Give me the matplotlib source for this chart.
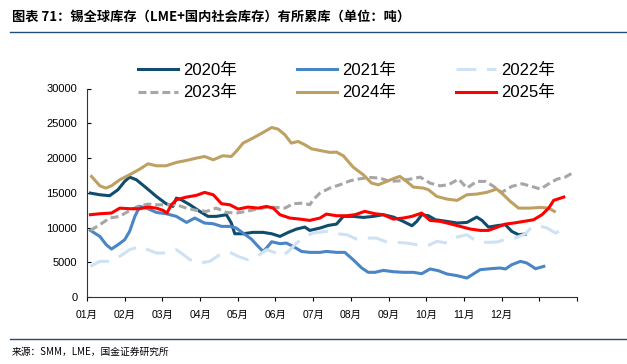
import matplotlib
matplotlib.use("Agg")
import matplotlib.pyplot as plt
from matplotlib.lines import Line2D

plt.rcParams['font.family'] = ['Liberation Sans', 'Noto Sans CJK SC']

# x 轴为月份位置（01月 = 0），数值单位：吨
month_labels = ["01月", "02月", "03月", "04月", "05月", "06月",
                "07月", "08月", "09月", "10月", "11月", "12月", "", ""]

x2020 = [0.09, 0.34, 0.6, 0.82, 1.0, 1.13, 1.31, 1.58, 1.84, 2.1, 2.28, 2.37, 2.5, 2.73, 2.99,
         3.21, 3.43, 3.7, 3.83, 3.92, 4.14, 4.4, 4.67, 4.9, 5.12, 5.34, 5.56, 5.78, 5.91, 6.18,
         6.4, 6.62, 6.8, 7.06, 7.33, 7.6, 7.86, 8.13, 8.39, 8.62, 8.75, 8.88, 9.06, 9.24, 9.55,
         9.82, 10.08, 10.34, 10.48, 10.65, 10.92, 11.1, 11.27, 11.45, 11.63]
inv2020 = [14950, 14710, 14570, 15430, 16630, 17250, 16870, 15670, 14470, 13420, 13030, 14230, 13990, 13270, 12320,
           11600, 11600, 11840, 10640, 9100, 9100, 9300, 9300, 9100, 8720, 9300, 9780, 10060, 9580, 9920,
           10300, 10490, 11600, 11600, 11450, 11600, 11840, 11500, 10880, 10250, 10880, 11840, 11690, 11120, 10880,
           10640, 10730, 11500, 11020, 10060, 10300, 10400, 9440, 8960, 9060]

x2021 = [0.09, 0.34, 0.51, 0.65, 0.82, 1.0, 1.13, 1.27, 1.4, 1.58, 1.84, 2.1, 2.37, 2.64, 2.86,
         3.12, 3.35, 3.57, 3.79, 3.96, 4.14, 4.36, 4.54, 4.67, 4.76, 4.9, 5.12, 5.29, 5.47, 5.69,
         5.91, 6.18, 6.35, 6.62, 6.84, 7.06, 7.29, 7.46, 7.64, 7.86, 8.13, 8.39, 8.66, 8.88, 9.1,
         9.32, 9.55, 9.82, 10.08, 10.26, 10.43, 10.7, 10.96, 11.1, 11.27, 11.5, 11.67, 11.9, 12.12]
inv2021 = [9580, 8720, 7520, 6900, 7520, 8240, 9440, 11600, 13030, 12790, 12170, 11980, 11600, 10730, 11360,
           10640, 10540, 10160, 10160, 9920, 9200, 8340, 7280, 6560, 7040, 7950, 7670, 7760, 7280, 6560,
           6420, 6420, 6560, 6420, 6420, 5370, 4170, 3550, 3550, 3830, 3640, 3550, 3550, 3350, 4030,
           3790, 3310, 3070, 2730, 3350, 3930, 4070, 4170, 4030, 4650, 5130, 4890, 4070, 4410]

x2022 = [0.09, 0.34, 0.6, 0.87, 1.13, 1.4, 1.62, 1.84, 2.1, 2.37, 2.5, 2.73, 2.99, 3.26, 3.52,
         3.79, 4.05, 4.27, 4.54, 4.76, 5.03, 5.16, 5.34, 5.56, 5.78, 6.0, 6.35, 6.62, 6.89, 7.15,
         7.42, 7.68, 7.95, 8.21, 8.48, 8.75, 9.06, 9.28, 9.55, 9.82, 10.08, 10.34, 10.6, 10.87, 11.14,
         11.36, 11.63, 11.76, 11.98, 12.21, 12.43, 12.52]
inv2022 = [4410, 5130, 5130, 5850, 6800, 7280, 6800, 6330, 6330, 6800, 6330, 5370, 4890, 5130, 6090,
           6420, 5750, 5370, 5940, 6800, 6330, 5850, 6560, 7760, 8720, 9200, 9440, 9100, 8960, 8340,
           8480, 8480, 7910, 7860, 7760, 7520, 7430, 8000, 7760, 8630, 8960, 8000, 7860, 7910, 8340,
           8480, 9100, 9820, 10250, 9920, 9200, 9440]

x2023 = [0.09, 0.34, 0.6, 0.87, 1.09, 1.35, 1.62, 1.88, 2.1, 2.37, 2.64, 2.9, 3.17, 3.43, 3.7,
         3.96, 4.23, 4.5, 4.76, 5.03, 5.25, 5.47, 5.73, 5.91, 6.0, 6.18, 6.44, 6.71, 6.98, 7.24,
         7.51, 7.77, 8.04, 8.3, 8.57, 8.84, 9.1, 9.37, 9.59, 9.86, 10.08, 10.34, 10.57, 10.79, 11.0,
         11.27, 11.54, 11.8, 12.03, 12.25, 12.47, 12.69, 12.9]
inv2023 = [9580, 10400, 11360, 11600, 12320, 13030, 13370, 13270, 13270, 13270, 12790, 12460, 12320, 12790, 12170,
           12080, 12320, 12650, 12890, 12890, 12790, 13420, 13510, 13270, 13990, 14950, 15670, 16150, 16720, 17010,
           17200, 17110, 16630, 16720, 16960, 17250, 16390, 16000, 16150, 16960, 15670, 16630, 16630, 15910, 15050,
           15910, 16290, 15910, 15530, 16290, 16960, 17250, 17920]

x2024 = [0.12, 0.34, 0.5, 0.65, 0.87, 1.13, 1.4, 1.62, 1.84, 2.1, 2.37, 2.64, 2.9, 3.12, 3.35,
         3.6, 3.83, 3.98, 4.14, 4.4, 4.67, 4.9, 5.07, 5.25, 5.42, 5.6, 5.78, 5.96, 6.18, 6.45,
         6.62, 6.8, 7.06, 7.33, 7.55, 7.73, 7.95, 8.17, 8.3, 8.48, 8.66, 8.93, 9.06, 9.28, 9.55,
         9.82, 10.08, 10.34, 10.6, 10.87, 11.05, 11.23, 11.45, 11.76, 12.03, 12.25, 12.4]
inv2024 = [17350, 16000, 15670, 16000, 16870, 17590, 18400, 19170, 18880, 18880, 19360, 19650, 19980, 20220, 19740,
           20320, 20220, 21080, 22140, 22860, 23670, 24390, 24150, 23340, 22140, 22380, 21900, 21320, 21080, 20800,
           20850, 20320, 18690, 17590, 16390, 16150, 16630, 17110, 17350, 16630, 15810, 15670, 15430, 14470, 14090,
           13900, 14710, 14810, 15050, 15530, 14710, 13750, 12790, 12790, 12890, 12790, 12320]

x2025 = [0.09, 0.34, 0.65, 0.87, 1.13, 1.4, 1.62, 1.84, 2.02, 2.12, 2.24, 2.37, 2.64, 2.9, 3.12,
         3.35, 3.57, 3.79, 4.01, 4.27, 4.54, 4.76, 4.94, 5.12, 5.38, 5.65, 5.91, 6.18, 6.35, 6.62,
         6.89, 7.11, 7.37, 7.64, 7.86, 8.13, 8.39, 8.62, 8.88, 9.1, 9.37, 9.63, 9.9, 10.17, 10.43,
         10.65, 10.87, 11.1, 11.32, 11.59, 11.85, 12.07, 12.25, 12.38, 12.65]
inv2025 = [11840, 11980, 12080, 12790, 12700, 12700, 12940, 12790, 12460, 12080, 13270, 13990, 14380, 14620, 15050,
           14710, 13420, 13270, 12650, 12940, 12790, 13030, 12790, 11840, 11360, 11210, 11020, 11360, 11930, 11690,
           11690, 11840, 12320, 11980, 11840, 11210, 11360, 11600, 12080, 11020, 10880, 10540, 10160, 9780, 9580,
           9580, 10020, 10490, 10640, 10880, 11120, 11840, 12790, 13900, 14380]

fig = plt.figure(figsize=(6.27, 3.64), dpi=100)
ax = fig.add_axes([87 / 627, 1 - 297 / 364, 490 / 627, 208.5 / 364])

lw = 2.2
l20, = ax.plot(x2020, inv2020, color="#0f4c6e", lw=lw, label="2020年")
l21, = ax.plot(x2021, inv2021, color="#4a86c5", lw=lw, label="2021年")
l22, = ax.plot(x2022, inv2022, color="#cfe2f3", lw=lw, dashes=(6.5, 3.5), label="2022年")
l23, = ax.plot(x2023, inv2023, color="#a6a6a6", lw=lw, dashes=(2.6, 1.3), label="2023年")
l24, = ax.plot(x2024, inv2024, color="#bfa063", lw=lw, label="2024年")
l25, = ax.plot(x2025, inv2025, color="#ff0000", lw=lw, label="2025年")

ax.set_xlim(0, 13)
ax.set_ylim(0, 30000)
ax.set_xticks(range(14))
ax.set_xticklabels(month_labels, fontsize=7.5)
ax.set_yticks(range(0, 30001, 5000))
ax.tick_params(axis="y", direction="in", length=3, pad=7, labelsize=8)
ax.tick_params(axis="x", direction="out", length=3, pad=6)
for s in ["top", "right"]:
    ax.spines[s].set_visible(False)
for s in ["left", "bottom"]:
    ax.spines[s].set_color("#333333")
    ax.spines[s].set_linewidth(0.8)

# 图例按行排列：legend 默认按列填充，所以要重排
handles = [l20, l23, l21, l24, l22, l25]
fig.legend(handles=handles, labels=[h.get_label() for h in handles],
           loc="center", bbox_to_anchor=(0.553, 1 - 81.5 / 364), ncol=3, frameon=False,
           fontsize=12, handlelength=2.4, handletextpad=0.3, columnspacing=3.6,
           labelspacing=0.45)

# 标题与来源
fig.text(12 / 627, 1 - 17 / 364, "图表 71：锡全球库存（LME+国内社会库存）有所累库（单位：吨）",
         family=["Noto Sans CJK SC"], fontsize=9.5, fontweight="bold", va="center")
fig.add_artist(Line2D([10 / 627, 1], [1 - 32 / 364] * 2, color="#1f4e79", lw=1))
fig.add_artist(Line2D([10 / 627, 1], [1 - 339 / 364] * 2, color="#1f4e79", lw=1))
fig.text(12 / 627, 1 - 352 / 364, "来源：SMM，LME，国金证券研究所",
         family=["Noto Sans CJK SC"], fontsize=7, va="center")

fig.savefig("out.png", dpi=100)
